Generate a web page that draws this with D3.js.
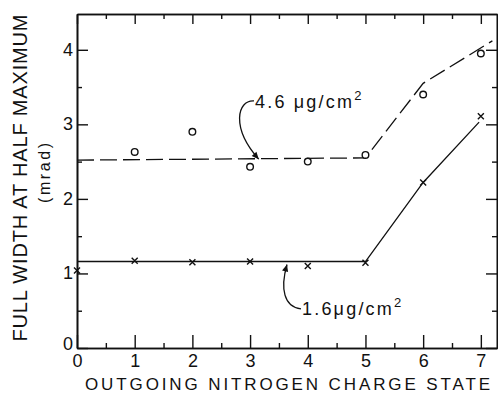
<!DOCTYPE html>
<html>
<head>
<meta charset="utf-8">
<script src="https://cdn.jsdelivr.net/npm/d3@7"></script>
<style>
  html, body { margin: 0; padding: 0; background: #fff; }
  svg { display: block; }
  text { font-family: "Liberation Sans", Arial, sans-serif; fill: #111; }
</style>
</head>
<body>
<div id="chart"></div>
<script>
// charge states and measured FWHM (mrad)
const chargeTicks = [0, 1, 2, 3, 4, 5, 6, 7];
const halfTicks = [0.5, 1.5, 2.5, 3.5, 4.5, 5.5, 6.5];
const fwhmTicks = [0, 1, 2, 3, 4];
const fwhmHalfTicks = [0.5, 1.5, 2.5, 3.5];

// 4.6 ug/cm2 foil (open circles)
const thickStates = [1, 2, 3, 4, 5, 6, 7];
const thickFwhm = [2.63, 2.90, 2.43, 2.50, 2.59, 3.40, 3.95];
// hand drawn dashed curve through them
const thickCurveX = [0, 5, 6, 7.2];
const thickCurveY = [2.52, 2.55, 3.55, 4.12];

// 1.6 ug/cm2 foil (crosses)
const thinStates = [0, 1, 2, 3, 4, 5, 6, 7];
const thinFwhm = [1.04, 1.17, 1.15, 1.16, 1.10, 1.145, 2.22, 3.11];
const thinCurveX = [0, 5, 6, 6.97];
const thinCurveY = [1.16, 1.16, 2.22, 3.03];

const W = 498, H = 395;

const svg = d3.select('#chart').append('svg')
    .attr('width', W)
    .attr('height', H);

const x = d3.scaleLinear().domain([0, 7.28]).range([77, 497]);
const y = d3.scaleLinear().domain([0, 4.48]).range([348, 14]);

svg.append('defs').append('marker')
    .attr('id', 'ah')
    .attr('viewBox', '0 0 10 10')
    .attr('refX', 10).attr('refY', 5)
    .attr('markerUnits', 'userSpaceOnUse')
    .attr('markerWidth', 10).attr('markerHeight', 7)
    .attr('orient', 'auto')
    .append('path')
    .attr('d', 'M0,0.5L10,5L0,9.5z')
    .attr('fill', '#111');

function styleAxis(g) {
    g.select('.domain').attr('stroke', '#111').attr('stroke-width', 1.6);
    g.selectAll('.tick line').attr('stroke', '#111').attr('stroke-width', 1.4);
    g.selectAll('.tick text')
        .attr('font-family', '"Liberation Sans", Arial, sans-serif')
        .attr('font-size', 18)
        .attr('fill', '#111');
}

// bottom axis, ticks pointing up
svg.append('g')
    .attr('transform', 'translate(0,' + y(0) + ')')
    .call(d3.axisBottom(x).tickValues(chargeTicks).tickSize(-13).tickSizeOuter(0).tickPadding(6).tickFormat(d3.format('d')))
    .call(styleAxis);
svg.append('g')
    .attr('transform', 'translate(0,' + y(0) + ')')
    .call(d3.axisBottom(x).tickValues(halfTicks).tickSize(-5).tickSizeOuter(0).tickFormat(''))
    .call(styleAxis);

// top axis, ticks pointing down
svg.append('g')
    .attr('transform', 'translate(0,' + y(4.48) + ')')
    .call(d3.axisTop(x).tickValues(chargeTicks).tickSize(-10).tickSizeOuter(0).tickFormat(''))
    .call(styleAxis);
svg.append('g')
    .attr('transform', 'translate(0,' + y(4.48) + ')')
    .call(d3.axisTop(x).tickValues(halfTicks).tickSize(-5).tickSizeOuter(0).tickFormat(''))
    .call(styleAxis);

// left axis, ticks pointing right
svg.append('g')
    .attr('transform', 'translate(' + x(0) + ',0)')
    .call(d3.axisLeft(y).tickValues(fwhmTicks).tickSize(-11).tickSizeOuter(0).tickPadding(4).tickFormat(d3.format('d')))
    .call(styleAxis)
    .call(g => g.selectAll('.tick text').attr('dy', '0.3em').filter(d => d === 0).attr('dy', '0.1em'));
svg.append('g')
    .attr('transform', 'translate(' + x(0) + ',0)')
    .call(d3.axisLeft(y).tickValues(fwhmHalfTicks).tickSize(-5).tickSizeOuter(0).tickFormat(''))
    .call(styleAxis);

// right axis, ticks pointing left
svg.append('g')
    .attr('transform', 'translate(' + x(7.28) + ',0)')
    .call(d3.axisRight(y).tickValues(fwhmTicks).tickSize(-11).tickSizeOuter(0).tickFormat(''))
    .call(styleAxis);
svg.append('g')
    .attr('transform', 'translate(' + x(7.28) + ',0)')
    .call(d3.axisRight(y).tickValues(fwhmHalfTicks).tickSize(-5).tickSizeOuter(0).tickFormat(''))
    .call(styleAxis);

// curves
const line = d3.line().x(d => x(d[0])).y(d => y(d[1]));

svg.append('path')
    .datum(d3.zip(thickCurveX, thickCurveY))
    .attr('d', line)
    .attr('fill', 'none')
    .attr('stroke', '#111')
    .attr('stroke-width', 1.3)
    .attr('stroke-dasharray', '17,6');

svg.append('path')
    .datum(d3.zip(thinCurveX, thinCurveY))
    .attr('d', line)
    .attr('fill', 'none')
    .attr('stroke', '#111')
    .attr('stroke-width', 1.3);

// markers
svg.selectAll('.circ')
    .data(d3.zip(thickStates, thickFwhm))
    .enter().append('circle')
    .attr('class', 'circ')
    .attr('cx', d => x(d[0]))
    .attr('cy', d => y(d[1]))
    .attr('r', 3.3)
    .attr('fill', '#fff')
    .attr('stroke', '#111')
    .attr('stroke-width', 1.4);

svg.selectAll('.cross')
    .data(d3.zip(thinStates, thinFwhm))
    .enter().append('path')
    .attr('class', 'cross')
    .attr('transform', d => 'translate(' + x(d[0]) + ',' + y(d[1]) + ')')
    .attr('d', 'M-3,-3L3,3M-3,3L3,-3')
    .attr('stroke', '#111')
    .attr('stroke-width', 1.4);

// annotations
function label(tx, ty, num, sp) {
    const t = svg.append('text')
        .attr('x', x(tx)).attr('y', y(ty))
        .attr('font-size', 18)
        .attr('letter-spacing', 2.2);
    t.append('tspan').text(num + sp + '\u03bcg/cm');
    t.append('tspan').attr('dy', -8).attr('font-size', 13).text('2');
}

label(3.085, 3.22, '4.6', ' ');
svg.append('path')
    .attr('d', 'M' + (x(3.085) - 1) + ',' + (y(3.22) - 7) +
        'C' + (x(3.085) - 18) + ',' + (y(3.22) - 8) + ' ' +
        (x(3.085) - 24) + ',' + (y(3.22) + 20) + ' ' +
        x(3.15) + ',' + (y(2.52) - 1))
    .attr('fill', 'none')
    .attr('stroke', '#111')
    .attr('stroke-width', 1.3)
    .attr('marker-end', 'url(#ah)');

label(3.9, 0.443, '1.6', '');
svg.append('path')
    .attr('d', 'M' + (x(3.9) - 1) + ',' + (y(0.443) - 6) +
        'C' + (x(3.9) - 18) + ',' + (y(0.443) - 8) + ' ' +
        (x(3.9) - 22) + ',' + (y(0.443) - 26) + ' ' +
        x(3.64) + ',' + (y(1.16) + 3))
    .attr('fill', 'none')
    .attr('stroke', '#111')
    .attr('stroke-width', 1.3)
    .attr('marker-end', 'url(#ah)');

// axis titles
svg.append('text')
    .attr('x', 85).attr('y', 390)
    .attr('font-size', 17)
    .attr('textLength', 405)
    .attr('lengthAdjust', 'spacing')
    .text('OUTGOING NITROGEN CHARGE STATE');

svg.append('text')
    .attr('transform', 'translate(27,178) rotate(-90)')
    .attr('text-anchor', 'middle')
    .attr('font-size', 20)
    .attr('textLength', 327)
    .attr('lengthAdjust', 'spacing')
    .text('FULL WIDTH AT HALF MAXIMUM');

svg.append('text')
    .attr('transform', 'translate(50,173) rotate(-90)')
    .attr('text-anchor', 'middle')
    .attr('font-size', 16)
    .attr('textLength', 60)
    .attr('lengthAdjust', 'spacing')
    .text('(mrad)');
</script>
</body>
</html>
